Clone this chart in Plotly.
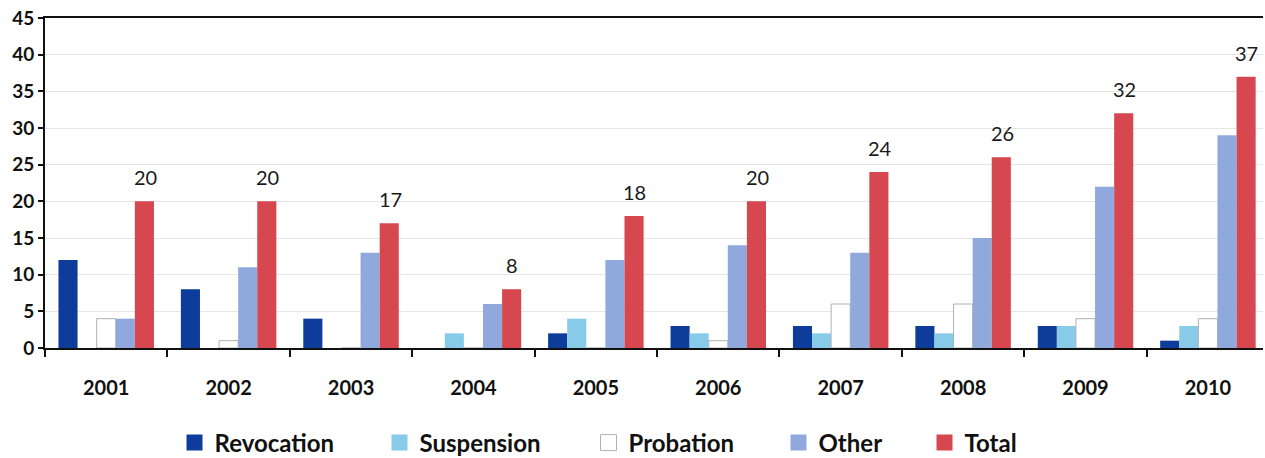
import plotly.graph_objects as go

years = ["2001", "2002", "2003", "2004", "2005", "2006", "2007", "2008", "2009", "2010"]
revocation = [12, 8, 4, 0, 2, 3, 3, 3, 3, 1]
suspension = [0, 0, 0, 2, 4, 2, 2, 2, 3, 3]
probation = [4, 1, 0, 0, 0, 1, 6, 6, 4, 4]
other = [4, 11, 13, 6, 12, 14, 13, 15, 22, 29]
total = [20, 20, 17, 8, 18, 20, 24, 26, 32, 37]

FONT = "Lato"
W, H = 1265, 458

series = [
    ("Revocation", revocation, "#0e3c9b", None),
    ("Suspension", suspension, "#88cbe8", None),
    ("Probation", probation, "#ffffff", "#b0b0b0"),
    ("Other", other, "#8fa9dc", None),
    ("Total", total, "#d6474f", None),
]
legend_names = ["legend", "legend2", "legend3", "legend4", "legend5"]
legend_centers_px = [194, 399, 608, 798, 944]

fig = go.Figure()
for name, vals, color, line in series:
    fig.add_trace(go.Bar(
        name=name, x=years, y=vals, showlegend=False,
        marker=dict(color=color,
                    line=dict(color=line if line else color, width=1 if line else 0)),
    ))

# legend entries (larger square swatches), one legend box per entry
for (name, vals, color, line), lg in zip(series, legend_names):
    fig.add_trace(go.Scatter(
        name=name, x=[None], y=[None], mode="markers", legend=lg,
        marker=dict(symbol="square", size=17, color=color,
                    line=dict(color=line if line else color, width=1 if line else 0)),
    ))

for i, t in enumerate(total):
    fig.add_annotation(x=i, y=t, text=str(t), showarrow=False,
                       yanchor="middle", yshift=24, xshift=39,
                       font=dict(family=FONT, size=20, color="#1a1a1a"))

legend_font = dict(family=FONT, size=24, color="#111111", weight="bold")
legends = {}
for lg, cx in zip(legend_names, legend_centers_px):
    legends[lg] = dict(orientation="h", xref="container", yref="container",
                       x=(cx - 19.5) / W, xanchor="left", y=1 - 443 / H, yanchor="middle",
                       font=legend_font, itemsizing="trace", bgcolor="rgba(0,0,0,0)")

fig.update_layout(
    width=W, height=H,
    margin=dict(l=45, r=2, t=18, b=110),
    paper_bgcolor="white", plot_bgcolor="white",
    barmode="group", bargap=0.22, bargroupgap=0,
    font=dict(family=FONT, color="#111111"),
    xaxis=dict(type="category", range=[-0.5, 9.45], showline=True, linecolor="#111111",
               linewidth=2, mirror=True, ticks="outside", tickson="boundaries",
               ticklen=7, tickwidth=2, tickcolor="#111111",
               ticklabelstandoff=21, automargin=False,
               tickfont=dict(family=FONT, size=20, color="#111111", weight="bold"),
               showgrid=False),
    yaxis=dict(range=[0, 45], dtick=5, showline=True, linecolor="#111111", linewidth=2,
               ticks="outside", ticklen=5, tickwidth=2, tickcolor="#111111",
               gridcolor="#e6e6e6", gridwidth=1, zeroline=False, automargin=False,
               tickfont=dict(family=FONT, size=19, color="#111111", weight="bold")),
    **legends,
)

fig.write_html("out.html", config={"displayModeBar": False},
               post_script="document.body.style.margin='0';document.body.style.overflow='hidden';")
